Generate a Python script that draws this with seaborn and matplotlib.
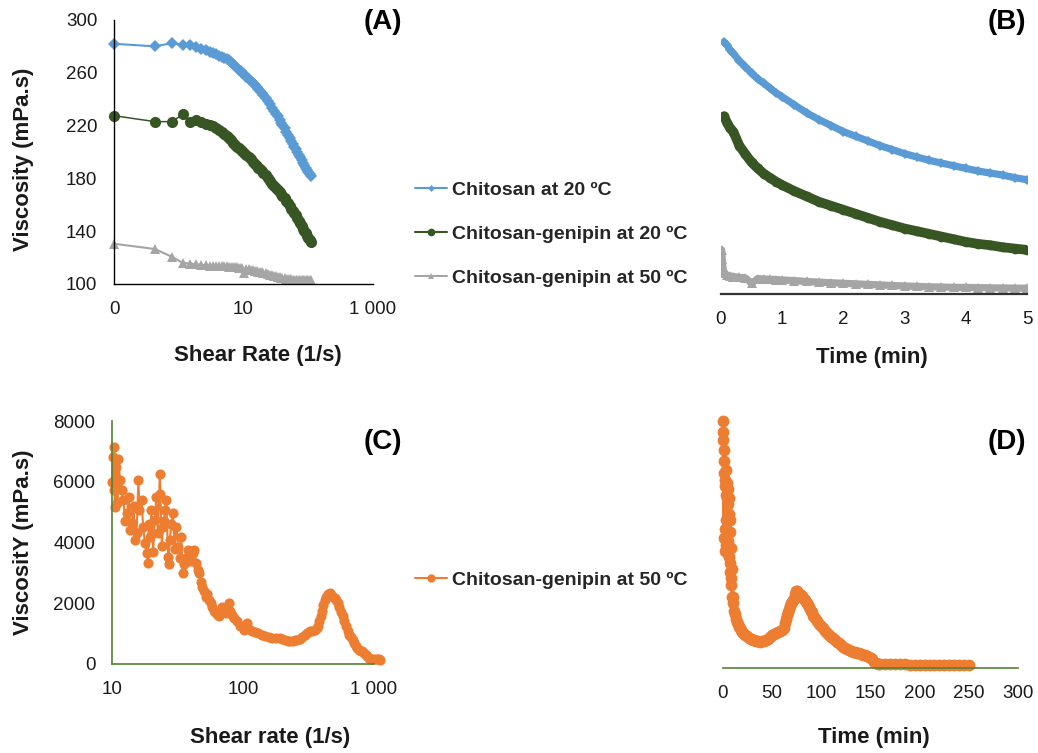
import numpy as np
import pandas as pd
import seaborn as sns
import matplotlib.pyplot as plt
from matplotlib.lines import Line2D

# ---------------- data ----------------
# (A) viscosity vs shear rate
shear_a = [0.1, 0.43, 0.79, 1.15, 1.5, 1.87, 2.2, 2.6, 3.0, 3.4, 3.8, 4.2, 4.6, 5.0, 5.5, 6.0,
           6.5, 7.0, 7.5, 8.0, 8.5, 9.0, 9.5, 10, 11, 12, 13, 14, 15, 16, 17, 18, 19, 20, 22,
           24, 26, 28, 30, 32, 34, 36, 38, 40, 43, 46, 49, 52, 55, 58, 61, 64, 67, 71, 75, 79,
           83, 87, 92, 96, 100, 105, 110]
chitosan_20_a = [282, 280, 282.5, 281, 281, 279.5, 278, 277, 276, 275, 274, 273, 272.3, 271.5,
                 270.5, 269.5, 268, 266.5, 265, 263.8, 262.3, 261, 259.8, 258.8, 256.8, 255,
                 253.5, 252, 250.5, 249, 247.5, 246, 244.5, 243, 240.8, 238.5, 236, 233.5, 231,
                 229, 227, 224.5, 222, 220.5, 218, 215.5, 213, 210.5, 208, 206, 204, 202, 200,
                 198, 196, 194, 192, 190, 188, 186.5, 185, 183.5, 182]
genipin_20_a = [227.5, 223, 223, 228.5, 223, 224, 222.5, 221.3, 220.5, 219.7, 218.5, 216.8,
                215.3, 214, 212.5, 210.5, 208.8, 207, 205.5, 204, 202.7, 201.5, 200.5, 199.5,
                197.8, 196, 194.5, 192.5, 191, 189.5, 188, 186.8, 185.5, 184.3, 182.5, 180, 178,
                176, 174.5, 173, 171.5, 170, 168.5, 167, 165, 163, 161, 159, 157, 155, 153.5,
                152, 150, 148, 146, 144, 142, 140.5, 138.5, 136.5, 135, 133, 131.5]
genipin_50_a = [130.5, 126.5, 120.5, 116, 115.5, 115, 114.5, 114.3, 114, 113.9, 113.8, 113.6,
                113.5, 113.4, 113.3, 113.2, 113.1, 113, 112.8, 112.6, 112.4, 112.2, 112, 108.5,
                111.6, 111.2, 110.8, 110.4, 110, 109.7, 109.4, 109.1, 108.8, 108.5, 108, 107.5,
                107, 106.6, 106.2, 105.8, 105.5, 105.2, 104.9, 104.6, 104.3, 104, 103.8, 103.6,
                103.5, 103.4, 103.3, 103.2, 103.1, 103, 103, 103, 103, 103, 103, 103, 103, 103,
                103]

# (B) viscosity vs time
time_b = [0.05, 0.1, 0.15, 0.2, 0.3, 0.4, 0.5, 0.6, 0.7, 0.8, 0.9, 1.0, 1.2, 1.4, 1.6, 1.8,
          2.0, 2.2, 2.4, 2.6, 2.8, 3.0, 3.2, 3.4, 3.6, 3.8, 4.0, 4.2, 4.4, 4.6, 4.8, 5.0]
chitosan_20_b = [283.5, 281, 277.5, 275, 269.5, 265, 260, 256, 252.5, 249, 245.5, 242.5,
                 236.5, 230.5, 225.5, 221, 216.5, 213, 209.5, 206, 203, 200, 197.5, 195,
                 193, 191, 189, 187, 185.5, 184, 182, 180.5]
genipin_20_b = [228, 223, 219, 216.5, 206, 199.5, 193.5, 189, 185, 182, 179, 176.5, 172, 168,
                164, 161, 158, 155, 152, 149, 146.5, 144, 142, 140, 138, 136, 134, 132.5,
                131.5, 130, 129, 128]
time_b_50 = [0.01, 0.02, 0.03, 0.05, 0.1, 0.15, 0.2, 0.3, 0.4, 0.5, 0.6, 0.7, 0.8, 0.9, 1.0,
             1.2, 1.4, 1.6, 1.8, 2.0, 2.2, 2.4, 2.6, 2.8, 3.0, 3.2, 3.4, 3.6, 3.8, 4.0, 4.2,
             4.4, 4.6, 4.8, 5.0]
genipin_50_b = [128, 121.5, 115.5, 110.5, 109, 108.5, 108, 107.5, 107, 103, 106.5, 106.2, 106,
                105.8, 105.5, 105, 104.4, 103.9, 103.4, 103, 102.6, 102.2, 101.8, 101.4, 101,
                100.7, 100.4, 100.2, 100, 99.9, 99.8, 99.6, 99.5, 99.4, 99.3]

# (C) viscosity vs shear rate, chitosan-genipin at 50 ºC
shear_c = [10, 10.2, 10.3, 10.4, 10.5, 10.7, 10.9, 11.0, 11.2, 11.5, 11.9, 12.2, 12.6, 13.0,
           13.4, 13.8, 14.2, 14.6, 15.0, 15.4, 15.9, 16.2, 16.8, 17.3, 17.8, 18.4, 18.9, 19.0,
           19.5, 20.0, 20.6, 21.2, 21.8, 22.4, 23.2, 23.4, 24.0, 24.5, 25.0, 25.3, 26.0, 26.8,
           27.0, 27.6, 28.4, 29.2, 30.0, 31.0, 31.9, 32.8, 33.7, 34.7, 35.5, 36.5, 37.9, 39.5,
           41.3, 42.6, 43.8, 45.0, 46.5, 47.5, 49, 50.5, 52, 53.5, 55, 56.5, 58, 60, 62, 64,
           65.6, 67.5, 69.5, 71.5, 73.6, 76, 78, 80, 82.6, 86, 90, 95, 101, 104, 107, 112, 117,
           124, 131, 140, 148, 157, 166, 178, 192, 200, 209, 219, 229, 239, 249, 260, 272,
           284, 296, 310, 324, 338, 353, 364, 374, 383, 392, 400, 408, 420, 432, 445, 458,
           472, 486, 500, 514, 530, 545, 560, 577, 594, 611, 630, 648, 667, 686, 706, 727,
           748, 770, 792, 815, 840, 864, 890, 915, 940, 970, 1010, 1055, 1090, 1120]
visc_c = [6000, 6815, 5720, 7140, 5170, 6490, 5900, 5300, 6760, 6050, 5720, 5390, 4700, 4955,
          5500, 4400, 4630, 5200, 4080, 4300, 6050, 5065, 5390, 4520, 4000, 3640, 3315, 4600,
          4190, 5065, 3700, 4740, 5500, 4300, 6270, 5610, 3900, 4520, 4700, 5065, 5390, 3530,
          3300, 4080, 4600, 4955, 3800, 4520, 3860, 3500, 4190, 2985, 3300, 3500, 3750, 3400,
          3640, 3750, 3315, 3100, 2985, 2700, 2550, 2400, 2220, 2300, 2110, 2000, 1890, 1750,
          1670, 1600, 1565, 1700, 1890, 1750, 1670, 1800, 2000, 1750, 1620, 1500, 1400, 1250,
          1130, 1200, 1345, 1150, 1070, 1050, 1020, 960, 910, 880, 855, 860, 855, 820, 800,
          770, 745, 760, 775, 800, 820, 880, 960, 1020, 1070, 1100, 1130, 1180, 1235, 1400,
          1565, 1750, 1950, 2100, 2220, 2300, 2330, 2280, 2220, 2160, 2110, 2000, 1890, 1720,
          1565, 1400, 1235, 1100, 960, 880, 800, 700, 580, 520, 470, 440, 415, 360, 305, 250,
          195, 170, 165, 160, 165, 150, 140]

# (D) viscosity vs time, chitosan-genipin at 50 ºC
time_d = [0, 0.25, 0.5, 0.75, 1.0, 1.25, 1.5, 1.75, 2.0, 2.25, 2.5, 2.75, 3.0, 3.25, 3.5,
          3.75, 4.0, 4.25, 4.5, 4.75, 5.0, 5.25, 5.5, 5.75, 6.0, 6.25, 6.5, 6.75, 7.0, 7.25,
          7.5, 7.75, 8.0, 8.5, 9.0, 9.5, 10, 10.5, 11, 12, 13, 14, 15, 16, 17, 18, 19, 20, 22,
          24, 26, 28, 30, 32, 34, 36, 38, 40, 42, 44, 46, 48, 50, 52, 54, 56, 58, 60, 62, 63,
          64, 65, 66, 67, 68, 69, 70, 71, 72, 73, 74, 75, 76, 77, 78, 79, 80, 81, 82, 83, 84,
          85, 86, 87, 88, 89, 90, 92, 94, 96, 98, 100, 102, 104, 106, 108, 110, 112, 114, 116,
          118, 120, 122, 124, 126, 128, 130, 132, 134, 136, 138, 140, 142, 144, 146, 148, 150,
          152, 154, 156, 158, 160, 165, 170, 175, 180, 185, 190, 195, 200, 205, 210, 215, 220,
          225, 230, 235, 240, 245, 250]
visc_d = [8000, 7650, 7400, 7050, 6700, 4200, 6300, 3800, 6100, 4500, 5900, 4000, 6400, 4800,
          5600, 3900, 6000, 4300, 5500, 3700, 5800, 4100, 5300, 3600, 5500, 3900, 5000, 3400,
          4800, 3100, 4400, 2900, 3900, 2700, 3200, 2300, 2100, 2300, 1850, 1750, 1600, 1500,
          1430, 1330, 1280, 1220, 1180, 1120, 1070, 1030, 980, 950, 920, 900, 880, 860, 850,
          860, 870, 900, 950, 1000, 1060, 1100, 1130, 1160, 1190, 1230, 1300, 1450, 1600,
          1720, 1800, 1900, 2000, 2100, 2150, 2200, 2250, 2400, 2500, 2480, 2430, 2400, 2350,
          2380, 2330, 2280, 2250, 2200, 2150, 2100, 2050, 1980, 1920, 1860, 1800, 1700, 1620,
          1520, 1430, 1350, 1280, 1200, 1130, 1070, 1020, 960, 910, 850, 800, 740, 690, 640,
          600, 570, 540, 520, 505, 490, 470, 450, 430, 410, 390, 360, 330, 280, 200, 150, 140,
          140, 135, 130, 125, 120, 115, 110, 110, 110, 105, 100, 100, 100, 95, 90, 90, 90, 90,
          90]

labels = ["Chitosan at 20 ºC", "Chitosan-genipin at 20 ºC", "Chitosan-genipin at 50 ºC"]
colors = ["#5B9BD5", "#375623", "#A5A5A5"]
orange = "#ED7D31"

ticks_a = [0.1, 10, 1000]
ticklabels_a = ["0", "10", "1 000"]
yticks_a = [100, 140, 180, 220, 260, 300]
ticks_b = [0, 1, 2, 3, 4, 5]
ticks_c = [10, 100, 1000]
ticklabels_c = ["10", "100", "1 000"]
yticks_c = [0, 2000, 4000, 6000, 8000]
ticks_d = [0, 50, 100, 150, 200, 250, 300]

# ---------------- style ----------------
sns.set_theme(style="white")
plt.rcParams["font.family"] = ["Liberation Sans", "DejaVu Sans"]
TXT = "#1a1a1a"
W, H = 1038, 753
fig = plt.figure(figsize=(W / 100, H / 100), dpi=100)


def box(l, t, r, b):
    return [l / W, 1 - b / H, (r - l) / W, (b - t) / H]


def style_axes(ax, color, lw, left=True):
    for s in ["top", "right"]:
        ax.spines[s].set_visible(False)
    ax.spines["left"].set_visible(left)
    for s in ["left", "bottom"]:
        ax.spines[s].set_color(color)
        ax.spines[s].set_linewidth(lw)
    ax.tick_params(axis="both", which="both", length=0, pad=12, labelsize=13.5,
                   labelcolor=TXT)
    ax.minorticks_off()
    ax.set_facecolor("none")


def draw(ax, x, y, color, marker, ms, lw):
    df = pd.DataFrame({"x": x, "y": y})
    sns.lineplot(data=df, x="x", y="y", ax=ax, color=color, marker=marker, markersize=ms,
                 markeredgewidth=0, linewidth=lw, sort=False, estimator=None, legend=False)


def label_at(ax, axis, text, px, py):
    if axis == "x":
        ax.set_xlabel(text, fontsize=16, fontweight="bold", color=TXT, va="center")
        ax.xaxis.set_label_coords(px / W, 1 - py / H, transform=fig.transFigure)
    else:
        ax.set_ylabel(text, fontsize=16, fontweight="bold", color=TXT, va="center")
        ax.yaxis.set_label_coords(px / W, 1 - py / H, transform=fig.transFigure)


# ---------------- (A) ----------------
axA = fig.add_axes(box(114, 20, 373, 284))
draw(axA, shear_a, chitosan_20_a, colors[0], "D", 5.8, 1.5)
draw(axA, shear_a, genipin_20_a, colors[1], "o", 8.0, 1.1)
draw(axA, shear_a, genipin_50_a, colors[2], "^", 7.0, 1.5)
axA.set_xscale("log")
axA.set_xlim(0.1, 1000)
axA.set_ylim(100, 300)
axA.set_xticks(ticks_a)
axA.set_xticklabels(ticklabels_a)
axA.set_yticks(yticks_a)
style_axes(axA, "#000000", 1.0)
for ln in axA.lines:
    ln.set_clip_on(False)
label_at(axA, "x", "Shear Rate (1/s)", 258, 355)
label_at(axA, "y", "Viscosity (mPa.s)", 24, 159)

# ---------------- (B) ----------------
axB = fig.add_axes(box(721, 20, 1027, 294))
draw(axB, time_b, chitosan_20_b, colors[0], "D", 5.0, 5.2)
draw(axB, time_b, genipin_20_b, colors[1], "o", 7.0, 7)
draw(axB, time_b_50, genipin_50_b, colors[2], "^", 6.5, 5.2)
axB.set_xlim(0, 5)
axB.set_ylim(95, 300)
axB.set_xticks(ticks_b)
axB.set_yticks([])
style_axes(axB, "#333333", 1.6, left=False)
label_at(axB, "x", "Time (min)", 872, 357)
axB.set_ylabel("")

# ---------------- (C) ----------------
axC = fig.add_axes(box(112, 421, 374, 664))
draw(axC, shear_c, visc_c, orange, "o", 7.3, 1.5)
axC.set_xscale("log")
axC.set_xlim(10, 1000)
axC.set_ylim(0, 8000)
axC.set_xticks(ticks_c)
axC.set_xticklabels(ticklabels_c)
axC.set_yticks(yticks_c)
style_axes(axC, "#548235", 1.2)
for ln in axC.lines:
    ln.set_clip_on(False)
label_at(axC, "x", "Shear rate (1/s)", 270, 737)
label_at(axC, "y", "ViscositY (mPa.s)", 24, 542)

# ---------------- (D) ----------------
axD = fig.add_axes(box(723, 421, 1018, 668))
draw(axD, time_d, visc_d, orange, "o", 8.5, 3.0)
axD.set_xlim(0, 300)
axD.set_ylim(0, 8000)
axD.set_xticks(ticks_d)
axD.set_yticks([])
style_axes(axD, "#548235", 1.2, left=False)
for ln in axD.lines:
    ln.set_clip_on(False)
label_at(axD, "x", "Time (min)", 874, 737)
axD.set_ylabel("")

# ---------------- panel letters ----------------
for txt, x, y in [("(A)", 383, 22), ("(B)", 1007, 22), ("(C)", 383, 442), ("(D)", 1007, 442)]:
    fig.text(x / W, 1 - y / H, txt, fontsize=20, fontweight="bold", color="#000000",
             ha="center", va="center")

# ---------------- legends ----------------
handles_top = [
    Line2D([], [], color=colors[0], marker="D", markersize=3.5, markeredgewidth=0, lw=1.5),
    Line2D([], [], color=colors[1], marker="o", markersize=5.5, markeredgewidth=0, lw=1.5),
    Line2D([], [], color=colors[2], marker="^", markersize=5, markeredgewidth=0, lw=1.5),
]
leg_kw = dict(frameon=False, loc="upper left", borderpad=0, borderaxespad=0,
              handlelength=1.65, handletextpad=0.25, labelspacing=1.36,
              prop={"size": 14, "weight": "bold"})
fig.legend(handles_top, labels, bbox_to_anchor=(415 / W, 1 - 181 / H), **leg_kw)
handle_c = [Line2D([], [], color=orange, marker="o", markersize=6, markeredgewidth=0, lw=1.5)]
fig.legend(handle_c, [labels[2]], bbox_to_anchor=(415 / W, 1 - 571 / H), **leg_kw)

fig.savefig("out.png", dpi=100)
